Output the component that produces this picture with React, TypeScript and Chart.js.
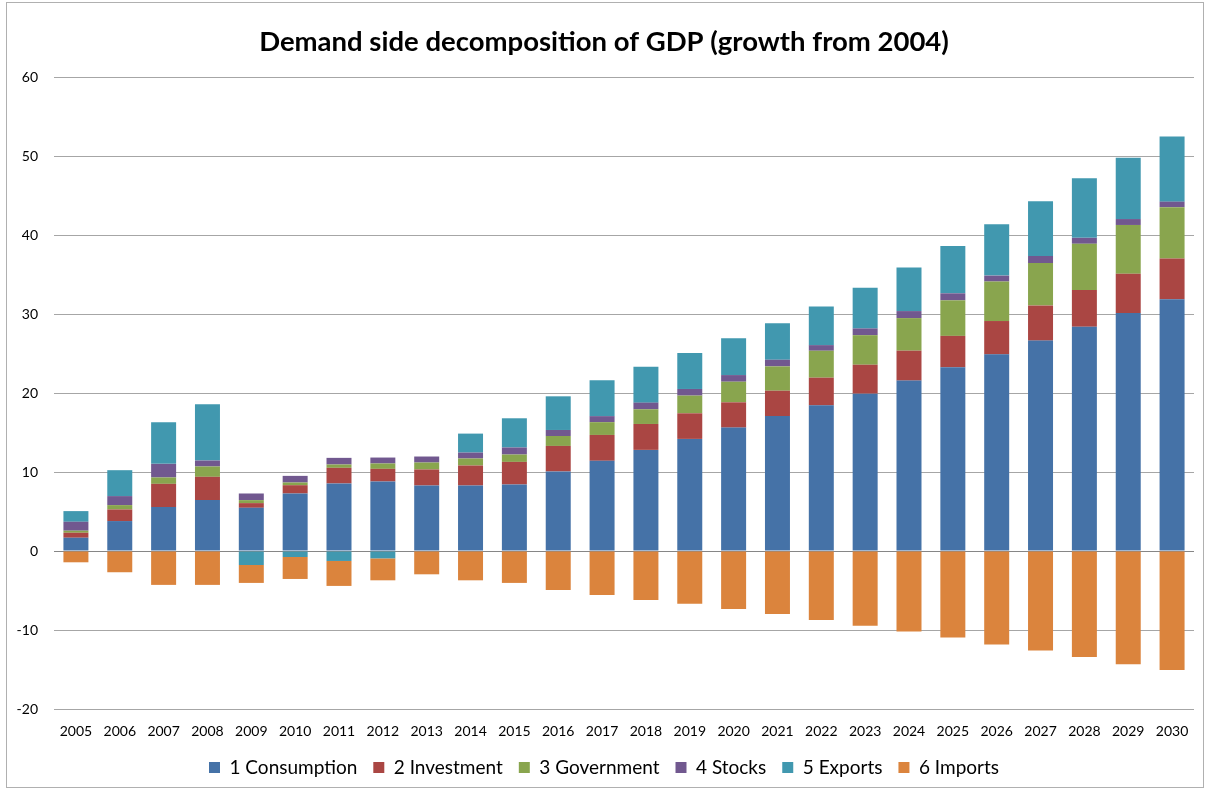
import React, { useEffect, useRef } from "react";
import { Chart, registerables } from "chart.js";

Chart.register(...registerables);

const years = [
  "2005", "2006", "2007", "2008", "2009", "2010", "2011", "2012", "2013",
  "2014", "2015", "2016", "2017", "2018", "2019", "2020", "2021", "2022",
  "2023", "2024", "2025", "2026", "2027", "2028", "2029", "2030",
];

const consumption = [1.68, 3.79, 5.56, 6.44, 5.47, 7.28, 8.55, 8.8, 8.29, 8.29, 8.42, 10.07, 11.42, 12.8, 14.19, 15.62, 17.09, 18.44, 19.92, 21.57, 23.26, 24.89, 26.63, 28.4, 30.14, 31.87];
const investment = [0.63, 1.47, 2.94, 2.95, 0.59, 1.05, 1.98, 1.6, 2.03, 2.53, 2.86, 3.23, 3.27, 3.28, 3.24, 3.2, 3.2, 3.5, 3.66, 3.79, 3.97, 4.22, 4.44, 4.64, 4.96, 5.14];
const government = [0.26, 0.55, 0.81, 1.31, 0.38, 0.34, 0.42, 0.68, 0.88, 0.89, 0.93, 1.26, 1.62, 1.86, 2.24, 2.61, 3.08, 3.41, 3.74, 4.12, 4.5, 5.0, 5.38, 5.85, 6.17, 6.51];
const stocks = [1.13, 1.14, 1.72, 0.75, 0.84, 0.84, 0.84, 0.75, 0.76, 0.75, 0.89, 0.76, 0.76, 0.84, 0.84, 0.84, 0.84, 0.71, 0.85, 0.89, 0.89, 0.75, 0.89, 0.75, 0.75, 0.7];
const exportsData = [1.35, 3.28, 5.26, 7.12, -1.77, -0.76, -1.26, -0.93, 0, 2.4, 3.7, 4.26, 4.55, 4.55, 4.55, 4.67, 4.63, 4.89, 5.14, 5.52, 5.98, 6.51, 6.93, 7.53, 7.77, 8.24];
const imports = [-1.43, -2.69, -4.29, -4.29, -2.27, -2.78, -3.16, -2.78, -2.95, -3.71, -4.04, -4.93, -5.56, -6.19, -6.69, -7.33, -7.96, -8.72, -9.47, -10.2, -10.95, -11.84, -12.59, -13.43, -14.32, -15.07];

const seriesNames = ["1 Consumption", "2 Investment", "3 Government", "4 Stocks", "5 Exports", "6 Imports"];
const seriesColors = ["#4572A7", "#AA4643", "#89A54E", "#71588F", "#4198AF", "#DB843D"];

const yMin = -20;
const yMax = 60;
const yStep = 10;

export default function App() {
  const canvasRef = useRef<HTMLCanvasElement | null>(null);

  useEffect(() => {
    if (!canvasRef.current) return;
    const values = [consumption, investment, government, stocks, exportsData, imports];
    const chart = new Chart(canvasRef.current, {
      type: "bar",
      data: {
        labels: years,
        datasets: values.map((v, i) => ({
          label: seriesNames[i],
          data: v,
          backgroundColor: seriesColors[i],
          borderWidth: 0,
          barPercentage: 0.57,
          categoryPercentage: 1.0,
        })),
      },
      options: {
        animation: false,
        responsive: false,
        maintainAspectRatio: false,
        layout: { padding: { left: 14, right: 15, top: 0, bottom: 4 } },
        plugins: {
          title: {
            display: true,
            text: "Demand side decomposition of GDP (growth from 2004)",
            color: "#000",
            font: { family: "Lato", size: 27.5, weight: "bold" },
            padding: { top: 26, bottom: 18 },
          },
          legend: {
            position: "bottom",
            labels: {
              color: "#000",
              font: { family: "Lato", size: 19 },
              boxWidth: 11,
              boxHeight: 11,
              padding: 16,
            },
          },
          tooltip: { enabled: false },
        },
        scales: {
          x: {
            stacked: true,
            afterFit: (scale: any) => {
              scale.height = 33;
            },
            grid: { display: false, drawTicks: false },
            border: { display: false },
            ticks: {
              color: "#000",
              font: { family: "Lato", size: 14 },
              padding: 14,
              maxRotation: 0,
              autoSkip: false,
            },
          },
          y: {
            stacked: true,
            min: yMin,
            max: yMax,
            afterFit: (scale: any) => {
              scale.width = 40;
            },
            grid: {
              drawTicks: false,
              color: (ctx: any) => (ctx.tick && ctx.tick.value === 0 ? "#868686" : "#a6a6a6"),
              lineWidth: 1,
            },
            border: { display: false },
            ticks: {
              stepSize: yStep,
              color: "#000",
              font: { family: "Lato", size: 14 },
              padding: 16,
            },
          },
        },
      },
    });
    return () => chart.destroy();
  }, []);

  return (
    <div style={{ position: "fixed", left: 0, top: 0, width: 1209, height: 791, background: "#fff" }}>
      <div
        style={{
          position: "absolute",
          left: 6,
          top: 2,
          width: 1198,
          height: 786,
          border: "1px solid #b0b0b0",
          boxSizing: "border-box",
        }}
      />
      <canvas
        ref={canvasRef}
        width={1209}
        height={791}
        style={{ position: "absolute", left: 0, top: 0, width: 1209, height: 791 }}
      />
    </div>
  );
}
